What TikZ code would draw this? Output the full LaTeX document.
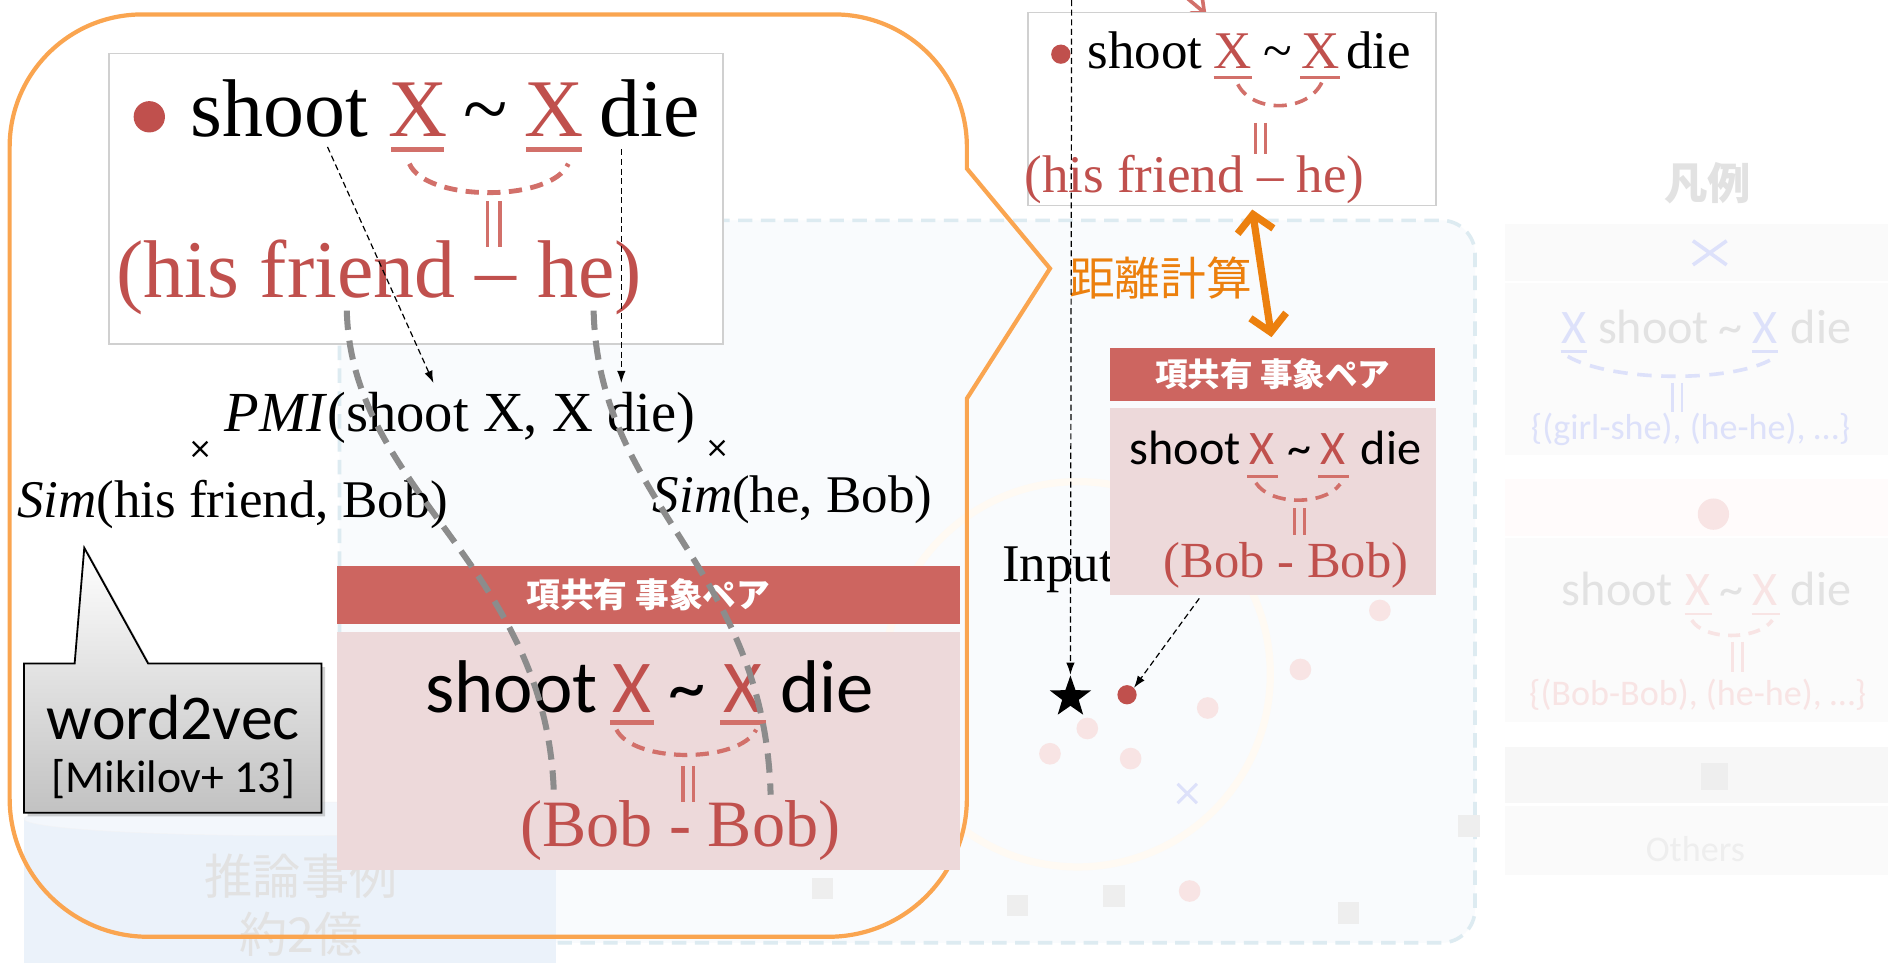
\documentclass[tikz,border=0pt]{standalone}
\usepackage{fontspec}
\setmainfont{Liberation Serif}
\newfontfamily\carl{Carlito}
\newfontfamily\djv{DejaVu Sans}
\newfontfamily\jp{Noto Sans CJK JP}
\usetikzlibrary{arrows.meta,shapes.geometric,shadows}
\newcommand\fsz[1]{\fontsize{#1}{#1}\selectfont}
\definecolor{tred}{HTML}{C0504D}
\definecolor{hdr}{HTML}{CD6560}
\definecolor{pinkbody}{HTML}{EDD9DA}
\definecolor{arcred}{HTML}{D2706A}
\definecolor{borange}{HTML}{FAA550}
\definecolor{aorange}{HTML}{EC800E}
\definecolor{curvegray}{HTML}{8C8C8C}
\definecolor{boxgray}{HTML}{D0D0D0}
\definecolor{panelfill}{HTML}{F9FBFD}
\definecolor{paneldash}{HTML}{DDEBF1}
\definecolor{fadepink}{HTML}{F8E4E4}
\definecolor{fadeblue}{HTML}{DDE1FA}
\definecolor{fadegray}{HTML}{E2E2E2}
\definecolor{fadesq}{HTML}{EEEEEE}
\definecolor{cylfill}{HTML}{EBF2FA}
\definecolor{cyltop}{HTML}{F3F7FC}
\definecolor{faintorange}{HTML}{FFFAF3}
\begin{document}
\begin{tikzpicture}[x=1pt,y=-1pt,
  t/.style={inner sep=0pt, anchor=base},
  tw/.style={inner sep=0pt, anchor=base west},
  uline/.style={draw=arcred, line width=#1},
  arcdash/.style={draw=arcred, line width=#1, dash pattern=on 11pt off 7pt},
  darr/.style={black, line width=1pt, dash pattern=on 5pt off 3pt, -{Latex[length=10pt,width=7pt]}},
  gcurve/.style={curvegray, line width=5pt, dash pattern=on 16pt off 9pt},
  hdrbox/.style={fill=hdr, inner sep=0pt, text=white},
  pinkbox/.style={fill=pinkbody, inner sep=0pt, anchor=north west},
  wbox/.style={draw=boxgray, fill=white, line width=1.2pt, inner sep=0pt, anchor=north west}
]
\useasboundingbox (0,0) rectangle (1568,799);
\clip (0,0) rectangle (1568,799);
\fill[white] (0,0) rectangle (1568,799);

% ---------- faded panel ----------
\draw[draw=paneldash, fill=panelfill, line width=3pt, dash pattern=on 12pt off 7pt, rounded corners=28pt] (282,183) rectangle (1225,783);
\draw[faintorange, line width=6pt] (895,560) circle[radius=160];
\foreach \x/\y in {903/605, 872/626, 939/630, 1003/588, 1080/556, 1146/507, 988/740}
  \fill[fadepink] (\x,\y) circle[radius=9];
\draw[fadeblue, line width=2.5pt] (978,651) -- (994,667) (978,667) -- (994,651);
\foreach \x/\y in {683/738, 845/752, 925/744, 1120/758, 1220/686}
  \fill[fadesq] (\x-9,\y-9) rectangle (\x+9,\y+9);

% ---------- faded cylinder ----------
\fill[cylfill] (20,680) rectangle (462,805);
\draw[fill=cyltop, draw=cylfill!80!gray!30] (241,680) ellipse[x radius=221, y radius=14];
\node[text=fadegray] (cyl1) at (250,728) {\jp\fsz{40}推論事例};
\node[text=fadegray] (cyl2) at (250,776) {\jp\fsz{40}約2億};

% ---------- faded legend ----------
\node[text=fadegray] (lgtitle) at (1418,152) {\jp\bfseries\fsz{36}凡例};
\fill[black!2] (1250,186) rectangle (1568,233);
\draw[fadeblue, line width=3pt] (1406,200) -- (1434,220) (1406,220) -- (1434,200);
\fill[black!1.5] (1250,235) rectangle (1568,378);
\node[t, text=fadeblue] (lgX1) at (1307,285) {\carl\fsz{40}X};
\node[tw, text=fadegray] (lgs1) at (1327,285) {\carl\fsz{40}shoot};
\node[t, text=fadegray] (lgt1) at (1437,285) {\carl\fsz{40}\char`\~};
\node[t, text=fadeblue] (lgX2) at (1466,285) {\carl\fsz{40}X};
\node[tw, text=fadegray] (lgd1) at (1487,285) {\carl\fsz{40}die};
\draw[fadeblue, line width=2pt] (1296,292) -- (1318,292) (1455,292) -- (1477,292);
\draw[fadeblue, line width=3pt, dash pattern=on 12pt off 8pt] (1302,296) .. controls (1340,318) and (1445,318) .. (1475,296);
\draw[fadeblue, line width=2pt] (1389,318) -- (1389,342) (1397,318) -- (1397,342);
\node[text=fadeblue] (lgset1) at (1404,357) {\carl\fsz{30}\{(girl-she), (he-he), …\}};
\fill[red!1.5] (1250,398) rectangle (1568,445);
\fill[fadepink] (1423,427) circle[radius=13];
\fill[black!1.5] (1250,447) rectangle (1568,600);
\node[tw, text=fadegray] (lgs2) at (1297,503) {\carl\fsz{40}shoot};
\node[t, text=fadepink] (lgX3) at (1410,503) {\carl\fsz{40}X};
\node[t, text=fadegray] (lgt2) at (1438,503) {\carl\fsz{40}\char`\~};
\node[t, text=fadepink] (lgX4) at (1466,503) {\carl\fsz{40}X};
\node[tw, text=fadegray] (lgd2) at (1487,503) {\carl\fsz{40}die};
\draw[fadepink, line width=2pt] (1399,510) -- (1422,510) (1455,510) -- (1478,510);
\draw[fadepink, line width=3pt, dash pattern=on 10pt off 7pt] (1405,515) .. controls (1415,532) and (1460,532) .. (1472,515);
\draw[fadepink, line width=2pt] (1439,533) -- (1439,558) (1447,533) -- (1447,558);
\node[text=fadepink] (lgset2) at (1410,577) {\carl\fsz{30}\{(Bob-Bob), (he-he), …\}};
\fill[black!3] (1250,620) rectangle (1568,667);
\fill[fadesq] (1413,634) rectangle (1435,656);
\fill[black!2] (1250,669) rectangle (1568,727);
\node[text=fadesq] (lgothers) at (1408,705) {\carl\fsz{30}Others};

% ---------- orange speech bubble ----------
\draw[borange, line width=3.5pt] (8,400) -- (8,122) arc[start angle=180, end angle=270, radius=110]
  -- (693,12) arc[start angle=270, end angle=360, radius=110]
  -- (803,140) -- (872,223) -- (803,331) -- (803,663) arc[start angle=0, end angle=90, radius=115]
  -- (123,778) arc[start angle=90, end angle=180, radius=115] -- cycle;

% ---------- top-left box ----------
\node[wbox, minimum width=510pt, minimum height=241pt] (tlbox) at (90,44) {};
\fill[tred] (124,97) circle[radius=13];
\node[tw] (tlshoot) at (158,113) {\fsz{68}shoot};
\node[t, text=tred] (tlX1) at (347,113) {\fsz{68}X};
\node[t] (tltil) at (403,113) {\fsz{68}\char`\~};
\node[t, text=tred] (tlX2) at (460,113) {\fsz{68}X};
\node[tw] (tldie) at (498,113) {\fsz{68}die};
\draw[uline=4pt] (325,124) -- (369,124) (437,124) -- (483,124);
\draw[arcdash=4pt] (340,136) .. controls (354,168) and (458,168) .. (472,136);
\draw[uline=3pt] (405,167) -- (405,205) (415,167) -- (415,205);
\node[t, text=tred] (tlpair) at (315,247) {\fsz{68}(his friend – he)};

% ---------- PMI / Sim ----------
\node[t] (pmi) at (382,358) {\fsz{47}\textit{PMI}(shoot X, X die)};
\node[inner sep=0pt] (timesL) at (167,381) {\djv\fsz{24}\smash{×}};
\node[inner sep=0pt] (timesR) at (596,380) {\djv\fsz{24}\smash{×}};
\node[tw] (simL) at (14,430) {\fsz{44}\textit{Sim}(his friend, Bob)};
\node[tw] (simR) at (542,426) {\fsz{44}\textit{Sim}(he, Bob)};

% ---------- left pink box ----------
\node[hdrbox, minimum width=517pt, minimum height=48pt] (hdrL) at (538.5,494) {\jp\bfseries\fsz{28}項共有 事象ペア};
\node[pinkbox, minimum width=517pt, minimum height=197pt] (bodyL) at (280,525) {};
\node[tw] (plshoot) at (353,592) {\carl\fsz{62}shoot};
\node[t, text=tred] (plX1) at (525,592) {\carl\fsz{62}X};
\node[t] (pltil) at (571,592) {\carl\fsz{62}\char`\~};
\node[t, text=tred] (plX2) at (617,592) {\carl\fsz{62}X};
\node[tw] (pldie) at (648,592) {\carl\fsz{62}die};
\draw[uline=3.5pt] (507,600) -- (543,600) (598,600) -- (636,600);
\draw[arcdash=3.5pt] (512,606) .. controls (526,634) and (614,634) .. (628,606);
\draw[uline=3pt] (567,636) -- (567,666) (576,636) -- (576,666);
\node[t, text=tred] (plpair) at (565,703) {\fsz{55}(Bob - Bob)};

% ---------- word2vec callout ----------
\draw[black, line width=1.5pt, top color=white, bottom color=black!24,
  drop shadow={opacity=0.35, shadow xshift=3pt, shadow yshift=-3pt}]
  (20,551) -- (62,551) -- (70,455) -- (123,551) -- (267,551) -- (267,675) -- (20,675) -- cycle;
\node (w2v) at (144,596) {\carl\fsz{53}word2vec};
\node (mik) at (144,647) {\carl\fsz{38}[Mikilov+ 13]};

% ---------- grey dashed curves ----------
\coordinate (gc1a) at (288,258);
\coordinate (gc1b) at (460,660);
\coordinate (gc2a) at (493,258);
\coordinate (gc2b) at (640,660);
\draw[gcurve] (gc1a) .. controls (292,410) and (455,470) .. (gc1b);
\draw[gcurve] (gc2a) .. controls (497,420) and (635,470) .. (gc2b);

% ---------- top-left dashed arrows ----------
\coordinate (shootsrc) at (272,122);
\coordinate (pmiL) at (360,318);
\coordinate (diesrc) at (516,124);
\coordinate (pmiR) at (516,318);
\draw[darr] (shootsrc) -- (pmiL);
\draw[darr] (diesrc) -- (pmiR);

% ---------- top-right box ----------
\coordinate (redsrc) at (958,-25);
\coordinate (redtip) at (1002,12);
\draw[arcred, line width=3pt, -{Straight Barb[length=9pt,width=16pt]}] (redsrc) -- (redtip);
\node[wbox, minimum width=339pt, minimum height=160pt] (trbox) at (853,10) {};
\fill[tred] (881,45) circle[radius=8];
\node[tw] (trshoot) at (903,57) {\fsz{44}shoot};
\node[t, text=tred] (trX1) at (1024,57) {\fsz{44}X};
\node[t] (trtil) at (1061,57) {\fsz{44}\char`\~};
\node[t, text=tred] (trX2) at (1097,57) {\fsz{44}X};
\node[tw] (trdie) at (1118,57) {\fsz{44}die};
\draw[uline=2.5pt] (1008,64) -- (1040,64) (1080,64) -- (1113,64);
\draw[arcdash=3pt] (1028,70) .. controls (1040,94) and (1086,94) .. (1098,68);
\draw[uline=2.5pt] (1043,102) -- (1043,128) (1051,102) -- (1051,128);
\node[t, text=tred] (trpair) at (992,160) {\fsz{44}(his friend – he)};

% ---------- Input ----------
\node[tw] (input) at (832,483) {\fsz{44}Input};

% ---------- right pink box ----------
\node[hdrbox, minimum width=270pt, minimum height=44pt] (hdrR) at (1057,311) {\jp\bfseries\fsz{27}項共有 事象ペア};
\node[pinkbox, minimum width=270pt, minimum height=155pt] (bodyR) at (922,339) {};
\node[tw] (prshoot) at (938,386) {\carl\fsz{40}shoot};
\node[t, text=tred] (prX1) at (1048,386) {\carl\fsz{40}X};
\node[t] (prtil) at (1079,386) {\carl\fsz{40}\char`\~};
\node[t, text=tred] (prX2) at (1107,386) {\carl\fsz{40}X};
\node[tw] (prdie) at (1130,386) {\carl\fsz{40}die};
\draw[uline=2.5pt] (1036,396) -- (1061,396) (1095,396) -- (1120,396);
\draw[arcdash=3pt] (1043,401) .. controls (1055,420) and (1100,420) .. (1113,402);
\draw[uline=2.5pt] (1075,422) -- (1075,444) (1083,422) -- (1083,444);
\node[t, text=tred] (prpair) at (1068,480) {\fsz{42}(Bob - Bob)};

% ---------- distance arrow ----------
\coordinate (oa1) at (1040,174);
\coordinate (oa2) at (1056,280);
\draw[aorange, line width=6pt, {Straight Barb[length=14pt,width=30pt]}-{Straight Barb[length=14pt,width=30pt]}] (oa1) -- (oa2);
\node[text=aorange] (dist) at (964,231) {\jp\fsz{38}距離計算};

% ---------- star, dot, arrows ----------
\node[star, star points=5, star point ratio=2.5, fill=black, inner sep=0pt, minimum size=36pt] (star) at (889,579) {};
\node[circle, fill=tred, minimum size=16pt, inner sep=0pt] (bobdot) at (936,577) {};
\coordinate (topin) at (890,0);
\coordinate (boxsrc) at (996,497);
\draw[darr] (topin) -- (star.north);
\draw[darr] (boxsrc) -- (bobdot.north east);
\end{tikzpicture}
\end{document}
